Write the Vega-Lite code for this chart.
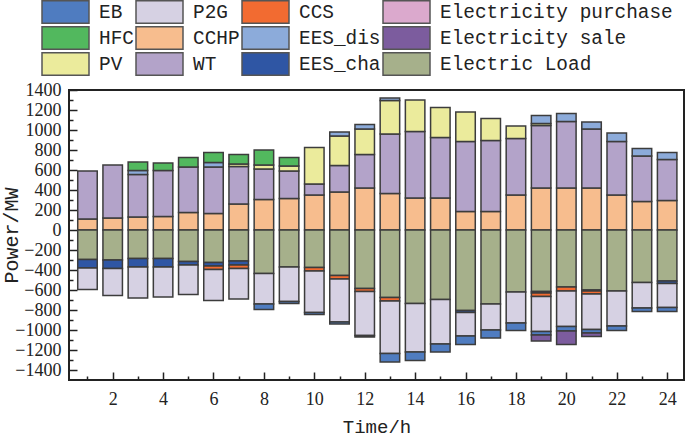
{
  "$schema": "https://vega.github.io/schema/vega-lite/v6.json",
  "width": 615,
  "height": 290,
  "autosize": {"type": "none"},
  "padding": {"left": 69, "top": 90, "right": 1, "bottom": 57},
  "background": "white",
  "data": {"values": [
    {"h":1,"s":"CCHP","v":110},{"h":1,"s":"WT","v":480},
    {"h":2,"s":"CCHP","v":120},{"h":2,"s":"WT","v":530},
    {"h":3,"s":"CCHP","v":130},{"h":3,"s":"WT","v":425},{"h":3,"s":"EES_dis","v":40},{"h":3,"s":"HFC","v":85},
    {"h":4,"s":"CCHP","v":135},{"h":4,"s":"WT","v":460},{"h":4,"s":"HFC","v":75},
    {"h":5,"s":"CCHP","v":175},{"h":5,"s":"WT","v":455},{"h":5,"s":"HFC","v":95},
    {"h":6,"s":"CCHP","v":165},{"h":6,"s":"WT","v":465},{"h":6,"s":"EES_dis","v":45},{"h":6,"s":"HFC","v":100},
    {"h":7,"s":"CCHP","v":260},{"h":7,"s":"WT","v":375},{"h":7,"s":"PV","v":25},{"h":7,"s":"HFC","v":95},
    {"h":8,"s":"CCHP","v":305},{"h":8,"s":"WT","v":305},{"h":8,"s":"PV","v":40},{"h":8,"s":"HFC","v":150},
    {"h":9,"s":"CCHP","v":315},{"h":9,"s":"WT","v":275},{"h":9,"s":"PV","v":50},{"h":9,"s":"HFC","v":85},
    {"h":10,"s":"CCHP","v":350},{"h":10,"s":"WT","v":110},{"h":10,"s":"PV","v":365},
    {"h":11,"s":"CCHP","v":380},{"h":11,"s":"WT","v":265},{"h":11,"s":"PV","v":295},{"h":11,"s":"EES_dis","v":40},
    {"h":12,"s":"CCHP","v":420},{"h":12,"s":"WT","v":335},{"h":12,"s":"PV","v":255},{"h":12,"s":"EES_dis","v":45},
    {"h":13,"s":"CCHP","v":365},{"h":13,"s":"WT","v":595},{"h":13,"s":"PV","v":335},{"h":13,"s":"EES_dis","v":25},
    {"h":14,"s":"CCHP","v":320},{"h":14,"s":"WT","v":665},{"h":14,"s":"PV","v":315},
    {"h":15,"s":"CCHP","v":320},{"h":15,"s":"WT","v":605},{"h":15,"s":"PV","v":300},
    {"h":16,"s":"CCHP","v":185},{"h":16,"s":"WT","v":700},{"h":16,"s":"PV","v":295},
    {"h":17,"s":"CCHP","v":185},{"h":17,"s":"WT","v":710},{"h":17,"s":"PV","v":220},
    {"h":18,"s":"CCHP","v":350},{"h":18,"s":"WT","v":565},{"h":18,"s":"PV","v":125},
    {"h":19,"s":"CCHP","v":420},{"h":19,"s":"WT","v":625},{"h":19,"s":"PV","v":20},{"h":19,"s":"EES_dis","v":80},
    {"h":20,"s":"CCHP","v":420},{"h":20,"s":"WT","v":665},{"h":20,"s":"EES_dis","v":80},
    {"h":21,"s":"CCHP","v":420},{"h":21,"s":"WT","v":590},{"h":21,"s":"EES_dis","v":70},
    {"h":22,"s":"CCHP","v":350},{"h":22,"s":"WT","v":535},{"h":22,"s":"EES_dis","v":85},
    {"h":23,"s":"CCHP","v":285},{"h":23,"s":"WT","v":455},{"h":23,"s":"EES_dis","v":75},
    {"h":24,"s":"CCHP","v":295},{"h":24,"s":"WT","v":410},{"h":24,"s":"EES_dis","v":70},
    {"h":1,"s":"Electric Load","v":-295},{"h":1,"s":"EES_cha","v":-85},{"h":1,"s":"P2G","v":-215},
    {"h":2,"s":"Electric Load","v":-300},{"h":2,"s":"EES_cha","v":-85},{"h":2,"s":"P2G","v":-270},
    {"h":3,"s":"Electric Load","v":-285},{"h":3,"s":"EES_cha","v":-85},{"h":3,"s":"P2G","v":-310},
    {"h":4,"s":"Electric Load","v":-285},{"h":4,"s":"EES_cha","v":-85},{"h":4,"s":"P2G","v":-300},
    {"h":5,"s":"Electric Load","v":-315},{"h":5,"s":"EES_cha","v":-35},{"h":5,"s":"P2G","v":-295},
    {"h":6,"s":"Electric Load","v":-325},{"h":6,"s":"EES_cha","v":-35},{"h":6,"s":"CCS","v":-35},{"h":6,"s":"P2G","v":-310},
    {"h":7,"s":"Electric Load","v":-310},{"h":7,"s":"EES_cha","v":-40},{"h":7,"s":"CCS","v":-35},{"h":7,"s":"P2G","v":-305},
    {"h":8,"s":"Electric Load","v":-435},{"h":8,"s":"P2G","v":-305},{"h":8,"s":"EB","v":-55},
    {"h":9,"s":"Electric Load","v":-370},{"h":9,"s":"P2G","v":-345},{"h":9,"s":"EB","v":-20},
    {"h":10,"s":"Electric Load","v":-375},{"h":10,"s":"CCS","v":-35},{"h":10,"s":"P2G","v":-415},{"h":10,"s":"EB","v":-20},
    {"h":11,"s":"Electric Load","v":-455},{"h":11,"s":"CCS","v":-35},{"h":11,"s":"P2G","v":-430},{"h":11,"s":"EB","v":-20},
    {"h":12,"s":"Electric Load","v":-585},{"h":12,"s":"CCS","v":-30},{"h":12,"s":"P2G","v":-440},{"h":12,"s":"EB","v":-15},
    {"h":13,"s":"Electric Load","v":-675},{"h":13,"s":"CCS","v":-35},{"h":13,"s":"P2G","v":-525},{"h":13,"s":"EB","v":-85},
    {"h":14,"s":"Electric Load","v":-735},{"h":14,"s":"P2G","v":-485},{"h":14,"s":"EB","v":-85},
    {"h":15,"s":"Electric Load","v":-695},{"h":15,"s":"P2G","v":-445},{"h":15,"s":"EB","v":-80},
    {"h":16,"s":"Electric Load","v":-805},{"h":16,"s":"EES_cha","v":-20},{"h":16,"s":"P2G","v":-235},{"h":16,"s":"EB","v":-85},
    {"h":17,"s":"Electric Load","v":-740},{"h":17,"s":"P2G","v":-260},{"h":17,"s":"EB","v":-80},
    {"h":18,"s":"Electric Load","v":-620},{"h":18,"s":"P2G","v":-310},{"h":18,"s":"EB","v":-75},
    {"h":19,"s":"Electric Load","v":-615},{"h":19,"s":"EES_cha","v":-15},{"h":19,"s":"CCS","v":-35},{"h":19,"s":"P2G","v":-350},{"h":19,"s":"EB","v":-35},{"h":19,"s":"Electricity sale","v":-60},
    {"h":20,"s":"Electric Load","v":-570},{"h":20,"s":"CCS","v":-40},{"h":20,"s":"P2G","v":-355},{"h":20,"s":"EB","v":-45},{"h":20,"s":"Electricity sale","v":-135},
    {"h":21,"s":"Electric Load","v":-600},{"h":21,"s":"EES_cha","v":-10},{"h":21,"s":"CCS","v":-30},{"h":21,"s":"P2G","v":-355},{"h":21,"s":"EB","v":-35},{"h":21,"s":"Electricity sale","v":-35},
    {"h":22,"s":"Electric Load","v":-610},{"h":22,"s":"P2G","v":-350},{"h":22,"s":"EB","v":-45},
    {"h":23,"s":"Electric Load","v":-525},{"h":23,"s":"P2G","v":-255},{"h":23,"s":"EB","v":-35},
    {"h":24,"s":"Electric Load","v":-510},{"h":24,"s":"EES_cha","v":-25},{"h":24,"s":"P2G","v":-240},{"h":24,"s":"EB","v":-40}
  ]},
  "transform": [
    {"calculate": "indexof(['CCHP','WT','PV','EES_dis','HFC','Electric Load','EES_cha','CCS','P2G','EB','Electricity sale','Electricity purchase'], datum.s)", "as": "k"}
  ],
  "mark": {"type": "bar", "size": 19.5, "stroke": "#3c3c3c", "strokeWidth": 1.5},
  "encoding": {
    "x": {
      "field": "h", "type": "quantitative",
      "scale": {"domain": [0.465, 24.47], "nice": false, "zero": false},
      "axis": {
        "values": [1,2,3,4,5,6,7,8,9,10,11,12,13,14,15,16,17,18,19,20,21,22,23,24],
        "labelExpr": "datum.value % 2 === 0 ? datum.label : ''",
        "grid": false, "domain": false,
        "tickColor": "#222", "tickWidth": 1.5,
        "tickSize": {"condition": {"test": "datum.value % 2 === 0", "value": -8}, "value": -4},
        "labelFont": "Liberation Serif", "labelFontSize": 18, "labelColor": "#222",
        "labelBaseline": "middle", "labelPadding": 27.5, "labelFlush": false,
        "title": "Time/h", "titleFont": "Liberation Mono", "titleFontSize": 19,
        "titleFontWeight": "normal", "titleColor": "#222",
        "titleX": 307.5, "titleY": 46, "titleBaseline": "middle", "titleAlign": "center"
      }
    },
    "y": {
      "field": "v", "type": "quantitative", "stack": "zero",
      "scale": {"domain": [-1500, 1400], "nice": false},
      "axis": {
        "values": [-1400,-1300,-1200,-1100,-1000,-900,-800,-700,-600,-500,-400,-300,-200,-100,0,100,200,300,400,500,600,700,800,900,1000,1100,1200,1300,1400],
        "format": "d",
        "labelExpr": "datum.value % 200 === 0 ? datum.label : ''",
        "grid": false, "domain": false,
        "tickColor": "#222", "tickWidth": 1.5,
        "tickSize": {"condition": {"test": "datum.value % 200 === 0", "value": -8}, "value": -4},
        "labelFont": "Liberation Serif", "labelFontSize": 18, "labelColor": "#222",
        "labelPadding": 16, "labelFlush": false,
        "title": "Power/MW", "titleFont": "Liberation Mono", "titleFontSize": 20,
        "titleFontWeight": "normal", "titleColor": "#222",
        "titleX": -58, "titleY": 145, "titleBaseline": "middle", "titleAlign": "center", "titleAngle": -90
      }
    },
    "color": {
      "field": "s", "type": "nominal",
      "scale": {
        "domain": ["EB","HFC","PV","P2G","CCHP","WT","CCS","EES_dis","EES_cha","Electricity purchase","Electricity sale","Electric Load"],
        "range": ["#4f7cc0","#52b85e","#ebeb9c","#d6d1e3","#f7bd8e","#b3a3c9","#f26b31","#8cabda","#2f56a4","#dba9cd","#7c5c9e","#a6b08b"]
      },
      "legend": {
        "orient": "none", "legendX": -28, "legendY": -90, "direction": "vertical",
        "title": null, "columns": 4, "padding": 0,
        "symbolType": "M-1,-0.48H1V0.48H-1Z", "symbolSize": 2209,
        "symbolStrokeColor": "#555", "symbolStrokeWidth": 1.5, "symbolOpacity": 1,
        "clipHeight": 24, "rowPadding": 2, "columnPadding": 1,
        "labelOffset": 9, "labelFont": "Liberation Mono", "labelFontSize": 19.4,
        "labelLimit": 300, "labelColor": "#222"
      }
    },
    "order": {"field": "k", "type": "quantitative"}
  },
  "config": {"view": {"stroke": "#222", "strokeWidth": 2}}
}
